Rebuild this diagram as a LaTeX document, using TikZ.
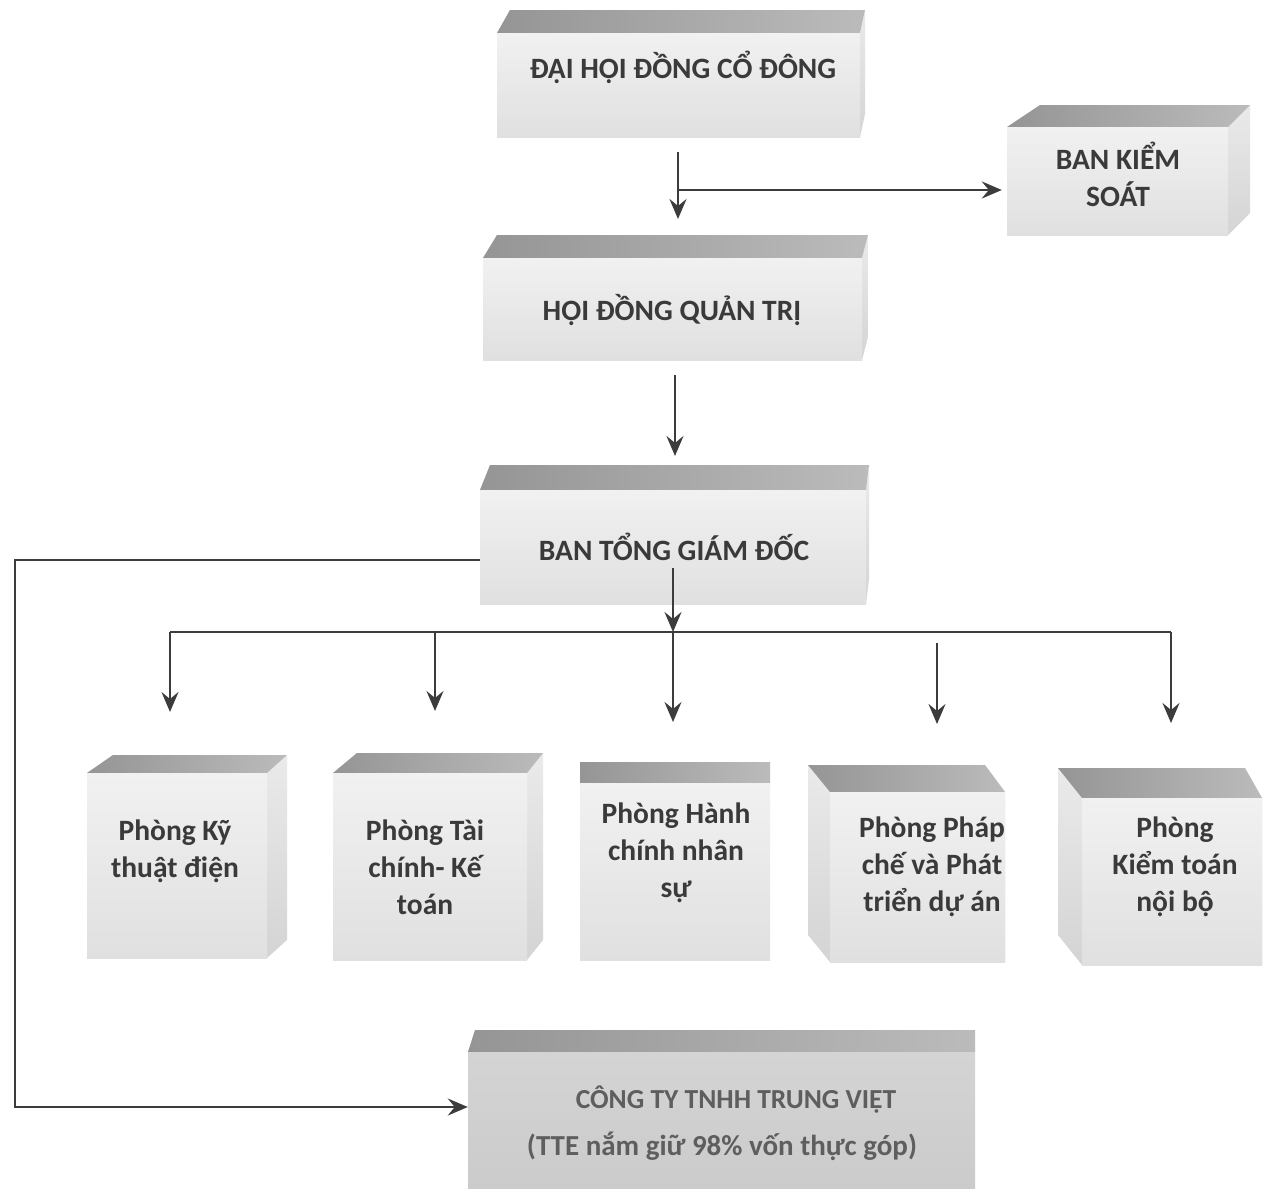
\documentclass[tikz,border=0pt]{standalone}
\usepackage{fontspec}
\setmainfont{Carlito}
\usetikzlibrary{arrows.meta}
\definecolor{topdark}{HTML}{959595}
\definecolor{toplight}{HTML}{BBBBBB}
\definecolor{fronttop}{HTML}{F1F1F1}
\definecolor{frontbot}{HTML}{E0E0E0}
\definecolor{sidetop}{HTML}{EAEAEA}
\definecolor{sidebot}{HTML}{D4D4D4}
\definecolor{darkfront}{HTML}{D4D4D4}
\definecolor{darkfrontb}{HTML}{CBCBCB}
\definecolor{inkc}{HTML}{3A3A3A}
\definecolor{inkd}{HTML}{5E5E5E}
\definecolor{linec}{HTML}{3C3C3C}
\tikzset{
  frontface/.style={rectangle, inner sep=0pt, top color=fronttop, bottom color=frontbot},
  frontdark/.style={rectangle, inner sep=0pt, top color=darkfront, bottom color=darkfrontb},
  topface/.style={left color=topdark, right color=toplight},
  sideface/.style={top color=sidetop, bottom color=sidebot},
  txt/.style={font=\bfseries\fontsize{29.5}{37}\selectfont, text=inkc, align=center, inner sep=0pt},
  txtd/.style={font=\bfseries\fontsize{29}{37}\selectfont, text=inkd, align=center, inner sep=0pt},
  ln/.style={draw=linec, line width=2.6pt},
  arr/.style={draw=linec, line width=2.6pt, -{Stealth[length=20pt,width=17pt,inset=7pt]}},
}
% #1 name, #2 x1, #3 y1, #4 x2, #5 y2, #6 back-left x, #7 back-right x, #8 back y, #9 front style
\newcommand{\mkcube}[9]{%
  \shade[sideface] (#4,#3) -- (#7,#8) -- (#7,{#5-(#3-#8)}) -- (#4,#5) -- cycle;
  \shade[sideface] (#2,#3) -- (#6,#8) -- (#6,{#5-(#3-#8)}) -- (#2,#5) -- cycle;
  \shade[topface] (#2,#3) -- (#6,#8) -- (#7,#8) -- (#4,#3) -- cycle;
  \node[#9, minimum width={(#4-#2)*1pt}, minimum height={(#5-#3)*1pt}] (#1) at ({(#2+#4)/2},{(#3+#5)/2}) {};
}
\begin{document}
\begin{tikzpicture}[x=1pt,y=-1pt]
\useasboundingbox (0,0) rectangle (1267,1189);
\fill[white] (0,0) rectangle (1267,1189);

% boxes
\mkcube{dh}{497}{33}{860}{137}{510}{865}{10}{frontface}
\mkcube{bks}{1007}{127}{1228}{235}{1040}{1250}{105}{frontface}
\mkcube{hd}{483}{258}{862}{360}{497}{868}{235}{frontface}
\mkcube{bt}{480}{490}{866}{604}{490}{869}{465}{frontface}
\mkcube{pa}{87}{773}{267}{958}{113}{287}{755}{frontface}
\mkcube{pb}{333}{773}{527}{960}{357}{543}{753}{frontface}
\mkcube{pc}{580}{783}{770}{960}{580}{770}{762}{frontface}
\mkcube{pd}{830}{792}{1005}{962}{808}{985}{765}{frontface}
\mkcube{pe}{1082}{798}{1262}{965}{1058}{1245}{768}{frontface}
\mkcube{ct}{468}{1052}{975}{1189}{475}{975}{1030}{frontdark}

% texts
\node[txt] (tdh) at (683,67) {ĐẠI HỘI ĐỒNG CỔ ĐÔNG};
\node[txt] (tbks) at (1118,174) {BAN KIỂM\\SOÁT};
\node[txt] (thd) at (672,310) {HỘI ĐỒNG QUẢN TRỊ};
\node[txt] (tbt) at (674,547) {BAN TỔNG GIÁM ĐỐC};
\node[txt] (tpa) at (175,851) {Phòng Kỹ\\thuật điện};
\node[txt] (tpb) at (425,867) {Phòng Tài\\chính- Kế\\toán};
\node[txt] (tpc) at (676,853) {Phòng Hành\\chính nhân\\sự};
\node[txt] (tpd) at (932,867) {Phòng Pháp\\chế và Phát\\triển dự án};
\node[txt] (tpe) at (1175,867) {Phòng\\Kiểm toán\\nội bộ};
\node[txtd, font=\bfseries\fontsize{27.5}{37}\selectfont] (tct1) at (736,1100) {CÔNG TY TNHH TRUNG VIỆT};
\node[txtd] (tct2) at (722,1146) {(TTE nắm giữ 98\% vốn thực góp)};

% connectors
\coordinate (j1) at (678,190);
\draw[arr] (678,152) -- (678,219);
\draw[arr] (j1) -- ([xshift=-5pt]bks.west |- j1);

\draw[arr] (675,375) -- (675,456);

\coordinate (bus) at (673,632);
\draw[arr] (673,568) -- (bus);
\draw[ln] (170,632) -- (1171,632);
\draw[arr] (170,632) -- (170,712);
\draw[arr] (435,632) -- (435,711);
\draw[arr] (bus) -- (673,722);
\draw[arr] (937,643) -- (937,724);
\draw[arr] (1171,632) -- (1171,723);

\coordinate (lc1) at (15,560);
\coordinate (lc2) at (15,1107);
\draw[arr] (bt.west |- lc1) -- (lc1) -- (lc2) -- (ct.west |- lc2);
\end{tikzpicture}
\end{document}
